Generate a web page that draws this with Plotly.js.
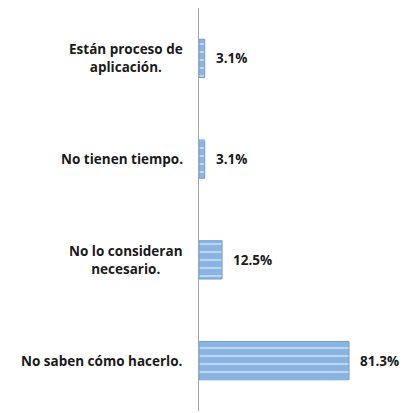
<!DOCTYPE html>
<html>
<head>
<meta charset="utf-8">
<script src="https://cdn.plot.ly/plotly-3.0.1.min.js"></script>
<style>html,body{margin:0;padding:0;background:#fff;}#chart{width:404px;height:413px;}</style>
</head>
<body>
<div id="chart"></div>
<script>
const categories = ["Están proceso de<br>aplicación.", "No tienen tiempo.", "No lo consideran<br>necesario.", "No saben cómo hacerlo."];
const values = [3.1, 3.1, 12.5, 81.3];
const valueLabels = ["3.1%", "3.1%", "12.5%", "81.3%"];

const font = {family: "Open Sans, Liberation Sans, sans-serif", size: 13.5, color: "#1a1a1a"};

const trace = {
  type: "bar",
  orientation: "h",
  y: categories,
  x: values,
  width: 0.38,
  marker: {
    color: "#8fb9e4",
    line: {color: "#6f9fd2", width: 1},
    pattern: {shape: "-", fgcolor: "#c9dff4", bgcolor: "#8ab5e2", size: 8, solidity: 0.2, fillmode: "replace"}
  },
  hoverinfo: "none"
};

const annotations = [];
categories.forEach((c, i) => {
  annotations.push({
    xref: "paper", yref: "y", x: 0, y: c, text: "<b>" + c + "</b>",
    xanchor: "right", yanchor: "middle", xshift: -14, align: "center",
    showarrow: false, font: font
  });
  annotations.push({
    xref: "x", yref: "y", x: values[i], y: c, text: "<b>" + valueLabels[i] + "</b>",
    xanchor: "left", yanchor: "middle", xshift: 9,
    showarrow: false, font: font
  });
});

const layout = {
  width: 404, height: 413,
  margin: {l: 199, r: 2, t: 8, b: 2},
  paper_bgcolor: "#fff", plot_bgcolor: "#fff",
  showlegend: false,
  bargap: 0.62,
  xaxis: {range: [0, 110], showgrid: false, zeroline: false, showticklabels: false, ticks: "", showline: false, fixedrange: true},
  yaxis: {autorange: "reversed", showgrid: false, zeroline: false, showticklabels: false, ticks: "", showline: true, linecolor: "#a6a6a6", linewidth: 1.5, fixedrange: true},
  annotations: annotations
};

Plotly.newPlot("chart", [trace], layout, {displayModeBar: false, staticPlot: true});
</script>
</body>
</html>
